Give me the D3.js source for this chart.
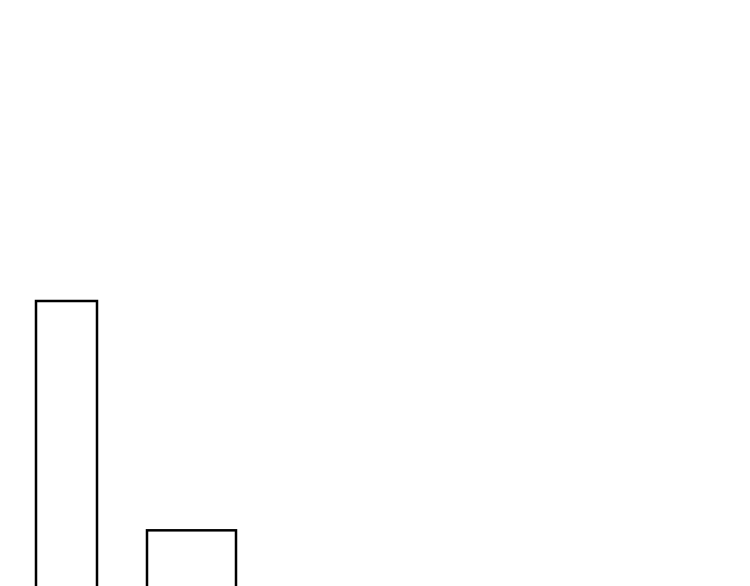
<!DOCTYPE html>
<html>
<head>
<meta charset="utf-8">
<script src="https://d3js.org/d3.v7.min.js"></script>
<style>
  html, body { margin: 0; padding: 0; background: #fff; overflow: hidden; }
</style>
</head>
<body>
<div id="chart"></div>
<script>
// bins: left edge, right edge, height
const binStart = [0, 11.1];
const binEnd = [6.1, 20.0];
const binValues = [50, 17.7];

const width = 750, height = 586;

const svg = d3.select("#chart")
    .append("svg")
    .attr("width", width)
    .attr("height", height);

// x in data units, 10px per unit, starting at 36px
const x = d3.scaleLinear()
    .domain([0, 71.4])
    .range([36, 750]);

// baseline sits below the visible area
const y = d3.scaleLinear()
    .domain([0, 50])
    .range([656, 301]);

const bins = binValues.map(function (v, i) {
    return {x0: binStart[i], x1: binEnd[i], value: v};
});

svg.append("g")
    .selectAll("rect")
    .data(bins)
    .enter().append("rect")
    .attr("x", function (d) { return x(d.x0); })
    .attr("y", function (d) { return y(d.value); })
    .attr("width", function (d) { return x(d.x1) - x(d.x0); })
    .attr("height", function (d) { return y(0) - y(d.value); })
    .attr("fill", "#fff")
    .attr("stroke", "#000")
    .attr("stroke-width", 2.5);
</script>
</body>
</html>
